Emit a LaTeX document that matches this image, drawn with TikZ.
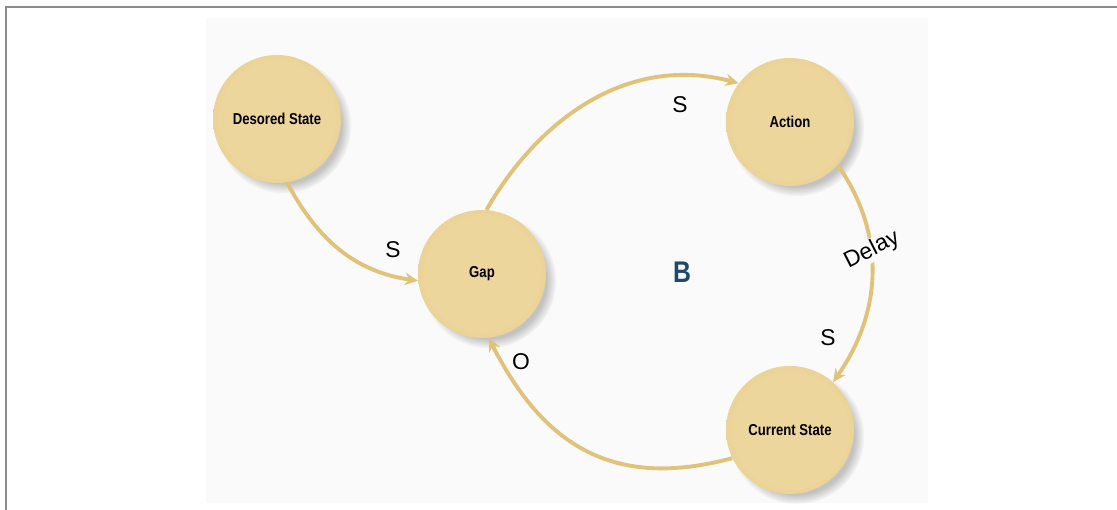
\documentclass[tikz,border=0pt]{standalone}
\usepackage{fontspec}
\usetikzlibrary{arrows.meta,shadows,fadings,positioning}
\newfontfamily\condfont[FakeStretch=0.83]{Liberation Sans}
\newfontfamily\labelfont{Liberation Sans}
\definecolor{ballIn}{HTML}{EDD69C}
\definecolor{ballOut}{HTML}{DBBB6B}
\definecolor{linkTan}{HTML}{E0C279}
\definecolor{panelGray}{HTML}{FAFAFA}
\definecolor{loopBlue}{HTML}{1D4A6C}
\pgfdeclareradialshading{ball}{\pgfpoint{0bp}{0bp}}{color(0bp)=(ballIn); color(22bp)=(ballIn); color(47bp)=(ballOut); color(50bp)=(ballOut)}

\begin{document}
\begin{tikzpicture}[
    state/.style={circle, minimum size=2.56cm, inner sep=0pt, shading=ball,
        circular drop shadow={shadow xshift=3.5pt, shadow yshift=-3.5pt, shadow scale=1.06, opacity=.45},
        font=\condfont\bfseries\fontsize{9}{10}\selectfont},
    link/.style={-{Stealth[length=7.5pt,width=7pt]}, line width=2.2pt, draw=linkTan, color=linkTan},
    lbl/.style={font=\labelfont\fontsize{13}{15}\selectfont}]
    \useasboundingbox (0,0) rectangle (22.34,10.2);
    % frame and panel
    \draw[gray!90, line width=0.6pt] (0.12,0) |- (22.34,10.06);
    \fill[panelGray] (4.12,0.14) rectangle (18.56,9.84);

    % states
    \node[state] (desired) at (5.54,7.82) {Desored State};
    \node[state] (action) at (15.8,7.76) {Action};
    \node[state] (gap) at (9.64,4.72) {Gap};
    \node[state] (current) at (15.8,1.6) {Current State};

    % links
    \draw[link] (desired.-81) to[out=-62, in=172] (gap.186);
    \draw[link] (gap.86) to[out=60, in=165] (action.143);
    \draw[link] (action.-42) to[out=-55, in=55] (current.48);
    \draw[link] (current.206) to[out=195, in=-63, looseness=1.15] (gap.-84);

    % labels
    \node[lbl] (sIn) at (7.86,5.2) {S};
    \node[lbl] (sAct) at (13.6,8.1) {S};
    \node[lbl, fill=panelGray, rotate=27, inner sep=0.5pt] (delay) at (17.44,5.2) {Delay};
    \node[lbl] (sCur) at (16.56,3.44) {S};
    \node[lbl] (oGap) at (10.42,2.96) {O};
    \node[font=\condfont\bfseries\fontsize{17}{20}\selectfont, text=loopBlue] (loopB) at (13.64,4.76) {B};
\end{tikzpicture}
\end{document}
